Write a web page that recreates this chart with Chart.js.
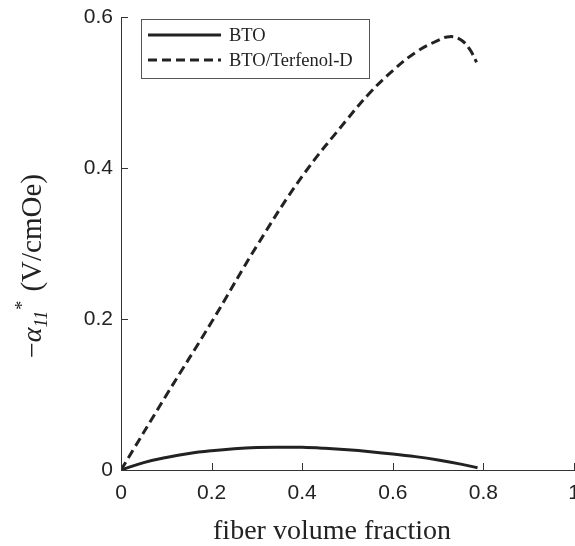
<!DOCTYPE html>
<html>
<head>
<meta charset="utf-8">
<script src="https://cdn.jsdelivr.net/npm/chart.js@4.4.1/dist/chart.umd.min.js"></script>
<style>
  html, body { margin: 0; padding: 0; background: #fff; }
  #wrap { width: 575px; height: 546px; }
</style>
</head>
<body>
<div id="wrap"><canvas id="chart"></canvas></div>
<script>
// Data
const btoX = [0, 0.05, 0.1, 0.15, 0.2, 0.25, 0.3, 0.35, 0.4, 0.45, 0.5, 0.55, 0.6, 0.65, 0.7, 0.75, 0.787];
const btoY = [0, 0.0098, 0.0165, 0.0218, 0.0255, 0.0282, 0.0298, 0.0302, 0.0300, 0.0287, 0.0268, 0.0243, 0.0213, 0.0177, 0.0132, 0.0078, 0.003];

const terfX = [0, 0.1, 0.2, 0.3, 0.4, 0.5, 0.55, 0.6, 0.65, 0.7, 0.726, 0.75, 0.77, 0.785];
const terfY = [0, 0.099, 0.196, 0.297, 0.389, 0.465, 0.500, 0.529, 0.553, 0.569, 0.574, 0.570, 0.557, 0.540];

const xTicks = [0, 0.2, 0.4, 0.6, 0.8, 1];
const yTicks = [0, 0.2, 0.4, 0.6];

const seriesNames = ['BTO', 'BTO/Terfenol-D'];

const ink = '#222';
const tickFont = { family: '"Liberation Sans", Arial, sans-serif', size: 21 };
const serif = '"Liberation Serif", "Times New Roman", serif';

function toPoints(xs, ys) {
    return xs.map((x, i) => ({ x: x, y: ys[i] }));
}

// Inward tick marks, axis titles and the boxed legend
const decorPlugin = {
    id: 'decor',
    afterDraw(chart) {
        const ctx = chart.ctx;
        const xs = chart.scales.x, ys = chart.scales.y;
        const area = chart.chartArea;
        ctx.save();
        ctx.strokeStyle = '#333';
        ctx.lineWidth = 1;
        xTicks.forEach(v => {
            const px = Math.round(xs.getPixelForValue(v)) + 0.5;
            ctx.beginPath();
            ctx.moveTo(px, area.bottom);
            ctx.lineTo(px, area.bottom - 7);
            ctx.stroke();
        });
        yTicks.forEach(v => {
            const py = Math.round(ys.getPixelForValue(v)) + 0.5;
            ctx.beginPath();
            ctx.moveTo(area.left, py);
            ctx.lineTo(area.left + 7, py);
            ctx.stroke();
        });

        // x title
        ctx.fillStyle = ink;
        ctx.font = '28px ' + serif;
        ctx.textAlign = 'center';
        ctx.textBaseline = 'alphabetic';
        ctx.fillText('fiber volume fraction', 332, 539);

        // y title, rotated, drawn in pieces
        ctx.translate(41, 358);
        ctx.rotate(-Math.PI / 2);
        ctx.textAlign = 'left';
        let cx = 0;
        ctx.font = '28px ' + serif;
        ctx.fillText('\u2212', cx, 0);
        cx += ctx.measureText('\u2212').width;
        ctx.font = 'italic 28px ' + serif;
        ctx.fillText('\u03b1', cx, 0);
        cx += ctx.measureText('\u03b1').width;
        ctx.font = 'italic 18px ' + serif;
        ctx.fillText('11', cx, 6);
        cx += ctx.measureText('11').width + 1;
        ctx.font = '18px ' + serif;
        ctx.fillText('*', cx, -13);
        cx += ctx.measureText('*').width + 2;
        ctx.font = '29px ' + serif;
        ctx.fillText(' (V/cmOe)', cx, 0);
        ctx.restore();

        // legend box
        ctx.save();
        ctx.strokeStyle = '#555';
        ctx.lineWidth = 1;
        ctx.strokeRect(141.5, 19.5, 228, 59);
        ctx.font = '18.5px ' + serif;
        ctx.fillStyle = ink;
        ctx.textBaseline = 'middle';
        chart.data.datasets.forEach((ds, i) => {
            const yRow = 35 + i * 25;
            ctx.strokeStyle = ds.borderColor;
            ctx.lineWidth = ds.borderWidth;
            ctx.setLineDash(ds.borderDash || []);
            ctx.beginPath();
            ctx.moveTo(148, yRow);
            ctx.lineTo(221, yRow);
            ctx.stroke();
            ctx.setLineDash([]);
            ctx.fillText(ds.label, 229, yRow + 1);
        });
        ctx.restore();
    }
};

new Chart(document.getElementById('chart'), {
    type: 'scatter',
    data: {
        datasets: [
            {
                label: seriesNames[0],
                data: toPoints(btoX, btoY),
                showLine: true,
                borderColor: ink,
                borderWidth: 3,
                pointRadius: 0,
                tension: 0.4
            },
            {
                label: seriesNames[1],
                data: toPoints(terfX, terfY),
                showLine: true,
                borderColor: ink,
                borderWidth: 3,
                borderDash: [9, 5],
                pointRadius: 0,
                tension: 0.4
            }
        ]
    },
    options: {
        responsive: true,
        maintainAspectRatio: false,
        animation: false,
        layout: { padding: { top: 17, right: 1, left: 0, bottom: 0 } },
        plugins: {
            legend: { display: false },
            tooltip: { enabled: false }
        },
        scales: {
            x: {
                type: 'linear',
                min: 0,
                max: 1,
                afterBuildTicks: s => { s.ticks = xTicks.map(v => ({ value: v })); },
                afterFit: s => { s.height = 76; s.paddingLeft = 0; s.paddingRight = 0; },
                grid: { display: false, drawTicks: false },
                border: { display: true, color: '#333', width: 1 },
                ticks: {
                    color: ink,
                    font: tickFont,
                    padding: 11,
                    maxRotation: 0,
                    callback: v => String(v)
                }
            },
            y: {
                type: 'linear',
                min: 0,
                max: 0.6,
                afterBuildTicks: s => { s.ticks = yTicks.map(v => ({ value: v })); },
                afterFit: s => { s.width = 121; s.paddingTop = 0; s.paddingBottom = 0; },
                grid: { display: false, drawTicks: false },
                border: { display: true, color: '#333', width: 1 },
                ticks: {
                    color: ink,
                    font: tickFont,
                    padding: 8,
                    callback: v => String(v)
                }
            }
        }
    },
    plugins: [decorPlugin]
});
</script>
</body>
</html>
